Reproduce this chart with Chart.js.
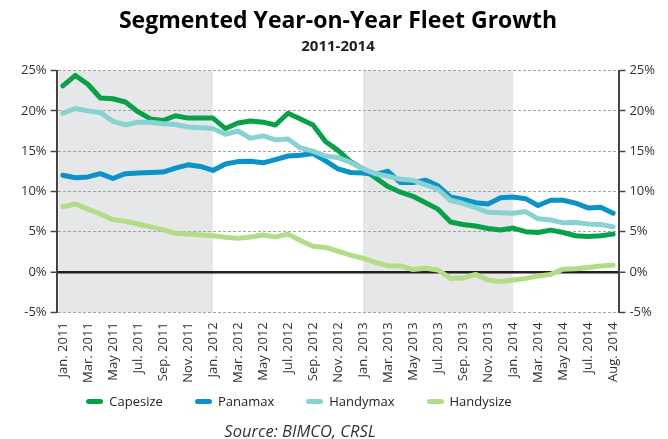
<!DOCTYPE html>
<html>
<head>
<meta charset="utf-8">
<script src="https://cdn.jsdelivr.net/npm/chart.js@4"></script>
<style>
    body { margin: 0; background: #fff; font-family: 'Open Sans', sans-serif; }
    #wrap { position: relative; width: 668px; height: 439px; }
    #legend { position: absolute; left: 0; top: 392px; width: 598px; display: flex; justify-content: center; font-size: 13px; color: #222; }
    #legend .item { display: flex; align-items: center; margin: 0 16px; }
    #legend .swatch { width: 17px; height: 5px; border-radius: 3px; margin-right: 6px; }
    #source { position: absolute; left: 0; top: 419px; width: 600px; text-align: center; font-style: italic; font-size: 16.5px; color: #333; }
</style>
</head>
<body>
<div id="wrap">
    <canvas id="fleetChart" width="668" height="439"></canvas>
    <div id="legend"></div>
    <div id="source">Source: BIMCO, CRSL</div>
</div>
<script>
var categories = [
    'Jan. 2011', '', 'Mar. 2011', '', 'May 2011', '', 'Jul. 2011', '', 'Sep. 2011', '', 'Nov. 2011', '',
    'Jan. 2012', '', 'Mar. 2012', '', 'May 2012', '', 'Jul. 2012', '', 'Sep. 2012', '', 'Nov. 2012', '',
    'Jan. 2013', '', 'Mar. 2013', '', 'May 2013', '', 'Jul. 2013', '', 'Sep. 2013', '', 'Nov. 2013', '',
    'Jan. 2014', '', 'Mar. 2014', '', 'May 2014', '', 'Jul. 2014', '', 'Aug. 2014'
];

var capesize = [23.1, 24.4, 23.3, 21.6, 21.5, 21.1, 19.9, 19.0, 18.8, 19.4,
    19.1, 19.1, 19.1, 17.8, 18.5, 18.75, 18.6, 18.25, 19.7, 19.0,
    18.25, 16.2, 15.1, 13.7, 12.8, 11.7, 10.6, 9.9, 9.4, 8.6,
    7.8, 6.2, 5.9, 5.7, 5.4, 5.2, 5.45, 5.0, 4.9, 5.2,
    4.9, 4.5, 4.4, 4.5, 4.7];
var panamax = [12.0, 11.7, 11.8, 12.2, 11.6, 12.2, 12.3, 12.35, 12.4, 12.9,
    13.3, 13.1, 12.6, 13.4, 13.7, 13.75, 13.55, 13.95, 14.4, 14.5,
    14.7, 13.8, 12.8, 12.35, 12.3, 12.1, 12.5, 11.1, 11.1, 11.4,
    10.7, 9.3, 9.0, 8.6, 8.45, 9.2, 9.3, 9.1, 8.25, 8.9,
    8.9, 8.55, 7.95, 8.05, 7.3];
var handymax = [19.7, 20.3, 20.0, 19.8, 18.7, 18.25, 18.6, 18.6, 18.4, 18.3,
    18.0, 17.9, 17.8, 17.1, 17.5, 16.6, 16.9, 16.4, 16.5, 15.4,
    15.0, 14.4, 14.2, 13.6, 12.8, 12.2, 11.9, 11.5, 11.4, 10.8,
    10.25, 8.9, 8.5, 8.0, 7.4, 7.35, 7.3, 7.5, 6.6, 6.45,
    6.1, 6.15, 5.95, 5.9, 5.6];
var handysize = [8.1, 8.45, 7.8, 7.2, 6.5, 6.3, 5.95, 5.6, 5.25, 4.8,
    4.7, 4.6, 4.5, 4.3, 4.2, 4.35, 4.6, 4.35, 4.7, 3.9,
    3.2, 3.05, 2.6, 2.1, 1.7, 1.2, 0.75, 0.75, 0.3, 0.45,
    0.25, -0.8, -0.75, -0.3, -1.0, -1.2, -1.0, -0.8, -0.5, -0.3,
    0.35, 0.4, 0.55, 0.75, 0.85];

// shaded years, as category index ranges (Jan 2011 - Jan 2012, Jan 2013 - Jan 2014)
var shadeBands = [[0, 12], [24, 36]];

var tickFont = { family: "'Open Sans', sans-serif", size: 13 };

var shadePlugin = {
    id: 'shade',
    beforeDraw: function(chart) {
        var ctx = chart.ctx;
        var x = chart.scales.x;
        var y = chart.scales.y;
        var top = y.getPixelForValue(25);
        var bottom = y.getPixelForValue(-5);
        ctx.save();
        ctx.fillStyle = '#e6e7e8';
        shadeBands.forEach(function(b) {
            var x0 = b[0] === 0 ? chart.chartArea.left + 2 : x.getPixelForValue(b[0]);
            var x1 = x.getPixelForValue(b[1]);
            ctx.fillRect(x0, top, x1 - x0, bottom - top);
        });
        ctx.restore();
    }
};

function yAxis(position) {
    return {
        position: position,
        min: -5,
        max: 25,
        ticks: {
            stepSize: 5,
            color: '#333',
            font: tickFont,
            padding: 4,
            callback: function(v) { return v + '%'; }
        },
        grid: {
            drawOnChartArea: position === 'left',
            color: function(c) { return c.tick && c.tick.value === 0 ? '#231f20' : '#a3a3a3'; },
            lineWidth: function(c) { return c.tick && c.tick.value === 0 ? 2.5 : 1; },
            tickLength: 6,
            tickColor: '#444',
            tickWidth: 1.5,
            tickBorderDash: []
        },
        border: {
            display: true,
            color: '#444',
            width: 2,
            dash: function(c) { return c.tick && c.tick.value === 0 ? [] : [3, 2]; }
        }
    };
}

var ctx = document.getElementById('fleetChart');
var chart = new Chart(ctx, {
    type: 'line',
    data: {
        labels: categories,
        datasets: [
            { label: 'Capesize', data: capesize, borderColor: '#0aa04a', order: 4 },
            { label: 'Panamax', data: panamax, borderColor: '#0a92c9', order: 3 },
            { label: 'Handymax', data: handymax, borderColor: '#88d3d2', order: 2 },
            { label: 'Handysize', data: handysize, borderColor: '#b3dc88', order: 1 }
        ]
    },
    options: {
        responsive: false,
        animation: false,
        elements: {
            line: { borderWidth: 5, tension: 0, borderJoinStyle: 'round', borderCapStyle: 'round', fill: false },
            point: { radius: 0 }
        },
        layout: { padding: { left: 17, right: 9, bottom: 54 } },
        plugins: {
            legend: { display: false },
            tooltip: { enabled: false },
            title: {
                display: true,
                text: 'Segmented Year-on-Year Fleet Growth',
                color: '#000',
                font: { family: "'Open Sans', sans-serif", size: 23, weight: 'bold' },
                padding: { top: 8, bottom: 0 }
            },
            subtitle: {
                display: true,
                text: '2011-2014',
                color: '#222',
                font: { family: "'Open Sans', sans-serif", size: 15, weight: 'bold' },
                padding: { top: 2, bottom: 15 }
            }
        },
        scales: {
            x: {
                offset: true,
                grid: { display: false },
                border: { display: false },
                ticks: {
                    autoSkip: false,
                    minRotation: 90,
                    maxRotation: 90,
                    color: '#333',
                    font: tickFont,
                    padding: 2
                }
            },
            y: yAxis('left'),
            y2: Object.assign(yAxis('right'), { display: true })
        }
    },
    plugins: [shadePlugin]
});

// html legend, in the series order
var legendBox = document.getElementById('legend');
chart.data.datasets.forEach(function(ds) {
    var item = document.createElement('div');
    item.className = 'item';
    var sw = document.createElement('span');
    sw.className = 'swatch';
    sw.style.background = ds.borderColor;
    var txt = document.createElement('span');
    txt.textContent = ds.label;
    item.appendChild(sw);
    item.appendChild(txt);
    legendBox.appendChild(item);
});
</script>
</body>
</html>
